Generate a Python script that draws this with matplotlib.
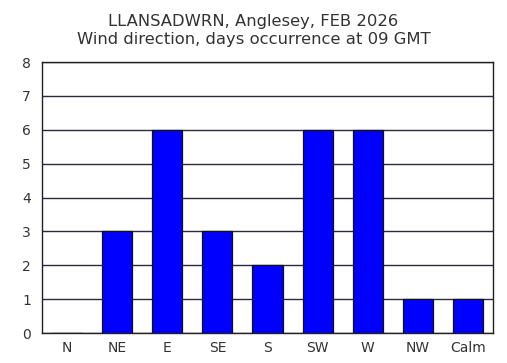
import matplotlib

matplotlib.use("Agg")

import matplotlib.pyplot as plt

directions = ["N", "NE", "E", "SE", "S", "SW", "W", "NW", "Calm"]
days = [0, 3, 6, 3, 2, 6, 6, 1, 1]
y_ticks = [0, 1, 2, 3, 4, 5, 6, 7, 8]

TEXT = "#333333"

fig = plt.figure(figsize=(5.07, 3.63), dpi=100)
axis = fig.add_axes([0.0828, 0.0826, 0.8896, 0.7466])

axis.set_axisbelow(True)
axis.yaxis.grid(True, color="#2a2a40", linewidth=1.0)
axis.bar(range(len(directions)), days, width=0.6, color="#0000ff",
         edgecolor="#111111", linewidth=0.9, zorder=3)

axis.set_xlim(-0.5, len(directions) - 0.5)
axis.set_ylim(0, 8)
axis.set_yticks(y_ticks)
axis.set_xticks(range(len(directions)))
axis.set_xticklabels(directions)
axis.tick_params(length=0, labelsize=10, labelcolor=TEXT, pad=6)
axis.tick_params(axis="y", pad=8)
for spine in axis.spines.values():
    spine.set_color("#222222")
    spine.set_linewidth(1.0)

fig.text(0.5, 0.962, "LLANSADWRN, Anglesey, FEB 2026\nWind direction, days occurrence at 09 GMT",
         ha="center", va="top", fontsize=11.8, color=TEXT, linespacing=1.3)

fig.savefig("out.png", dpi=100)
